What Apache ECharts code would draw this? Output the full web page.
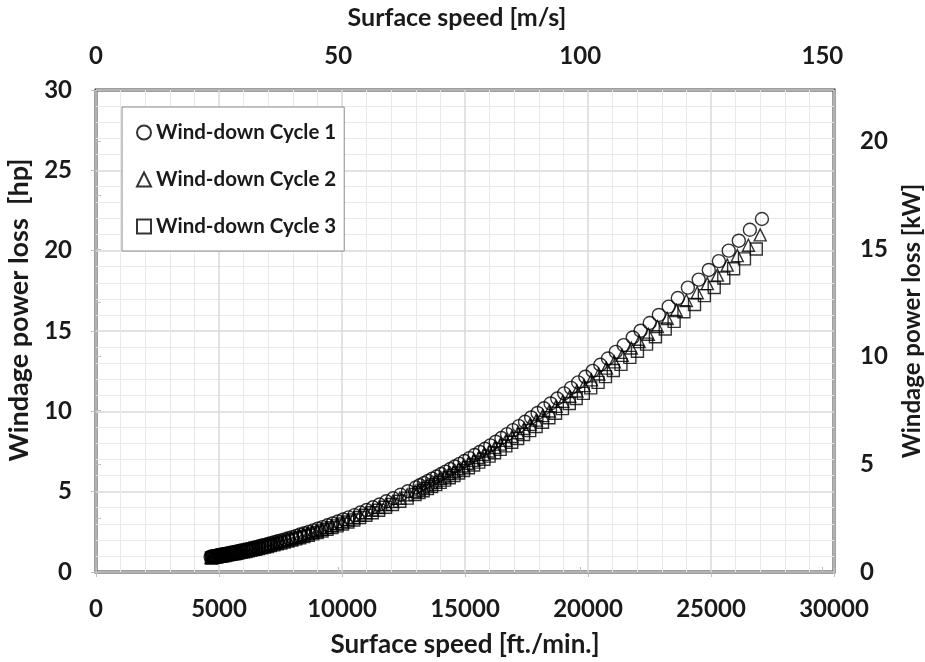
<!DOCTYPE html>
<html>
<head>
<meta charset="utf-8">
<script src="https://cdn.jsdelivr.net/npm/echarts@6/dist/echarts.min.js"></script>
<style>
html,body{margin:0;padding:0;background:#fff;}
#chart{width:925px;height:662px;}
</style>
</head>
<body>
<div id="chart"></div>
<script>
// ---- Data ----
const seriesNames = ['Wind-down Cycle 1', 'Wind-down Cycle 2', 'Wind-down Cycle 3'];

// Cycle 1 (circles): surface speed [ft./min.] and windage power loss [hp]
const speed1 = [
  27070, 26580, 26130, 25720, 25320, 24910, 24500, 24060, 23650, 23280,
  22880, 22510, 22140, 21820, 21450, 21130, 20810, 20500, 20190, 19890,
  19600, 19310, 19030, 18750, 18480, 18210, 17950, 17690, 17440, 17190,
  16950, 16710, 16480, 16250, 16030, 15810, 15600, 15390, 15180, 14980,
  14780, 14590, 14400, 14210, 14030, 13850, 13670, 13500, 13330, 13160,
  13000, 12680, 12380, 12080, 11800, 11520, 11260, 11000, 10750, 10510,
  10270, 10050, 9830, 9610, 9410, 9210, 9010, 8830, 8650, 8470,
  8300, 8140, 7980, 7820, 7670, 7530, 7390, 7250, 7110, 6990,
  6870, 6750, 6630, 6510, 6410, 6310, 6210, 6110, 6010, 5910,
  5820, 5740, 5660, 5580, 5500, 5420, 5340, 5260, 5200, 5140,
  5080, 5020, 4960, 4900, 4840, 4780, 4720, 4660
];
const power1 = [
  21.97, 21.30, 20.62, 20.00, 19.35, 18.80, 18.20, 17.70, 17.05, 16.52,
  16.00, 15.50, 15.02, 14.60, 14.12, 13.70, 13.29, 12.90, 12.52, 12.15,
  11.80, 11.46, 11.12, 10.80, 10.49, 10.19, 9.90, 9.62, 9.35, 9.08,
  8.83, 8.58, 8.34, 8.11, 7.88, 7.67, 7.47, 7.28, 7.09, 6.91,
  6.73, 6.57, 6.41, 6.25, 6.10, 5.94, 5.81, 5.67, 5.53, 5.40,
  5.27, 5.03, 4.81, 4.59, 4.40, 4.20, 4.03, 3.86, 3.70, 3.54,
  3.40, 3.27, 3.14, 3.02, 2.91, 2.79, 2.69, 2.59, 2.50, 2.41,
  2.33, 2.25, 2.17, 2.10, 2.03, 1.97, 1.91, 1.85, 1.79, 1.74,
  1.69, 1.65, 1.60, 1.55, 1.52, 1.48, 1.44, 1.40, 1.37, 1.34,
  1.31, 1.28, 1.25, 1.23, 1.20, 1.18, 1.15, 1.13, 1.11, 1.09,
  1.07, 1.06, 1.04, 1.02, 1.00, 0.99, 0.97, 0.95
];

// Cycle 2 (triangles)
const speed2 = [
  27000, 26520, 26070, 25660, 25260, 24850, 24440, 24000, 23590, 23220,
  22820, 22450, 22080, 21760, 21390, 21070, 20750, 20440, 20140, 19840,
  19550, 19260, 18980, 18700, 18430, 18160, 17900, 17650, 17400, 17150,
  16910, 16670, 16440, 16210, 15990, 15770, 15560, 15350, 15140, 14940,
  14750, 14560, 14370, 14180, 14000, 13820, 13640, 13470, 13300, 13130,
  12970, 12650, 12350, 12060, 11780, 11500, 11240, 10980, 10730, 10490,
  10250, 10030, 9810, 9590, 9390, 9190, 8990, 8810, 8630, 8450,
  8280, 8120, 7960, 7800, 7650, 7510, 7370, 7230, 7090, 6970,
  6850, 6730, 6610, 6490, 6390, 6290, 6190, 6090, 5990, 5890,
  5800, 5720, 5640, 5560, 5480, 5400, 5320, 5240, 5180, 5120,
  5060, 5000, 4940, 4880, 4820, 4770, 4730, 4690
];
const power2 = [
  20.98, 20.34, 19.69, 19.10, 18.48, 17.95, 17.38, 16.90, 16.28, 15.78,
  15.28, 14.80, 14.34, 13.94, 13.48, 13.08, 12.69, 12.32, 11.96, 11.60,
  11.27, 10.94, 10.62, 10.31, 10.02, 9.73, 9.45, 9.19, 8.93, 8.67,
  8.43, 8.19, 7.96, 7.75, 7.53, 7.32, 7.13, 6.95, 6.77, 6.60,
  6.43, 6.27, 6.12, 5.97, 5.83, 5.67, 5.55, 5.41, 5.28, 5.16,
  5.03, 4.80, 4.59, 4.38, 4.20, 4.01, 3.85, 3.69, 3.53, 3.38,
  3.25, 3.12, 3.00, 2.88, 2.78, 2.66, 2.57, 2.47, 2.39, 2.30,
  2.23, 2.15, 2.07, 2.01, 1.94, 1.88, 1.82, 1.77, 1.71, 1.66,
  1.61, 1.58, 1.53, 1.48, 1.45, 1.41, 1.38, 1.34, 1.31, 1.28,
  1.25, 1.22, 1.19, 1.17, 1.15, 1.13, 1.10, 1.08, 1.06, 1.04,
  1.02, 1.01, 0.99, 0.97, 0.96, 0.95, 0.93, 0.91
];

// Cycle 3 (squares)
const speed3 = [
  26840, 26360, 25920, 25520, 25130, 24730, 24330, 23900, 23500, 23140,
  22740, 22380, 22010, 21700, 21340, 21030, 20710, 20410, 20110, 19810,
  19520, 19240, 18960, 18680, 18410, 18150, 17890, 17630, 17380, 17140,
  16900, 16660, 16430, 16200, 15980, 15770, 15560, 15350, 15140, 14940,
  14740, 14550, 14360, 14170, 13990, 13810, 13640, 13470, 13300, 13130,
  12970, 12650, 12350, 12050, 11770, 11490, 11230, 10970, 10720, 10480,
  10240, 10020, 9800, 9590, 9390, 9190, 8990, 8810, 8630, 8450,
  8280, 8120, 7960, 7800, 7650, 7510, 7370, 7230, 7090, 6970,
  6850, 6730, 6610, 6490, 6390, 6290, 6190, 6090, 5990, 5890,
  5800, 5720, 5640, 5560, 5480, 5400, 5320, 5240, 5180, 5120,
  5060, 5000, 4940, 4880, 4820, 4770, 4730, 4690
];
const power3 = [
  20.10, 19.49, 18.87, 18.30, 17.71, 17.20, 16.65, 16.20, 15.60, 15.12,
  14.64, 14.18, 13.74, 13.36, 12.92, 12.54, 12.16, 11.80, 11.46, 11.12,
  10.80, 10.49, 10.17, 9.88, 9.60, 9.32, 9.06, 8.80, 8.56, 8.31,
  8.08, 7.85, 7.63, 7.42, 7.21, 7.02, 6.84, 6.66, 6.49, 6.32,
  6.16, 6.01, 5.87, 5.72, 5.58, 5.44, 5.32, 5.19, 5.06, 4.94,
  4.82, 4.60, 4.40, 4.20, 4.03, 3.84, 3.69, 3.53, 3.39, 3.24,
  3.11, 2.99, 2.87, 2.76, 2.66, 2.55, 2.46, 2.37, 2.29, 2.21,
  2.13, 2.06, 1.99, 1.92, 1.86, 1.80, 1.75, 1.69, 1.64, 1.59,
  1.55, 1.51, 1.46, 1.42, 1.39, 1.35, 1.32, 1.28, 1.25, 1.23,
  1.20, 1.17, 1.14, 1.13, 1.10, 1.08, 1.05, 1.03, 1.02, 1.00,
  0.98, 0.97, 0.95, 0.93, 0.92, 0.91, 0.89, 0.87
];

// Axis ranges and tick settings
const xFtMin = { min: 0, max: 30000, interval: 5000 };
const yHp = { min: 0, max: 30, interval: 5 };
const FTMIN_TO_MS = 0.00508;   // 1 ft/min = 0.00508 m/s
const HP_TO_KW = 0.7457;       // 1 hp = 0.7457 kW

function pairs(xs, ys) {
  const n = Math.min(xs.length, ys.length);
  const out = [];
  for (let i = 0; i < n; i++) out.push([xs[i], ys[i]]);
  return out;
}

const FONT = 'Lato';
const txt = '#1a1a1a';
const labelStyle = { fontFamily: FONT, fontWeight: 'bold', fontSize: 24, color: txt };
function nameStyle(size, pad) {
  return { fontFamily: FONT, fontWeight: 'bold', fontSize: size, color: txt, padding: pad || 0 };
}
const tickStyle = { show: true, length: 5, lineStyle: { color: '#bfbfbf', width: 1 } };

const chart = echarts.init(document.getElementById('chart'), null, { renderer: 'canvas' });

const markerStyle = { color: 'rgba(255,255,255,0)', borderColor: '#000', borderWidth: 1.4 };

chart.setOption({
  backgroundColor: '#fff',
  animation: false,
  grid: {
    left: 96, right: 91, top: 90, bottom: 90,
    outerBoundsMode: 'none', containLabel: false,
    show: true, borderColor: '#404040', borderWidth: 3, backgroundColor: 'transparent'
  },
  legend: {
    orient: 'vertical',
    left: 122, top: 107,
    padding: [15, 8, 14, 14],
    itemGap: 26,
    itemWidth: 14, itemHeight: 14,
    backgroundColor: '#fff',
    borderColor: '#8c8c8c', borderWidth: 1,
    textStyle: { fontFamily: FONT, fontWeight: 'bold', fontSize: 20.5, color: txt },
    data: seriesNames
  },
  xAxis: [
    {
      type: 'value', position: 'bottom',
      min: xFtMin.min, max: xFtMin.max, interval: xFtMin.interval,
      name: 'Surface speed [ft./min.]', nameLocation: 'middle', nameGap: 60,
      nameTextStyle: nameStyle(26),
      axisLine: { show: false },
      axisTick: tickStyle,
      axisLabel: Object.assign({ margin: 25, formatter: v => String(v) }, labelStyle),
      splitLine: { show: true, lineStyle: { color: '#d9d9d9', width: 1.5 } },
      minorTick: { show: false, splitNumber: 5 },
      minorSplitLine: { show: true, lineStyle: { color: '#e9e9e9', width: 1 } }
    },
    {
      type: 'value', position: 'top',
      min: xFtMin.min * FTMIN_TO_MS, max: xFtMin.max * FTMIN_TO_MS, interval: 50,
      name: 'Surface speed [m/s]', nameLocation: 'middle', nameGap: 60,
      nameTextStyle: nameStyle(25, [0, 16, 0, 0]),
      axisLine: { show: false },
      axisTick: tickStyle,
      axisLabel: Object.assign({ margin: 22, formatter: v => (Math.abs(v % 50) < 1e-6 ? String(v) : '') }, labelStyle),
      splitLine: { show: false }
    }
  ],
  yAxis: [
    {
      type: 'value', position: 'left',
      min: yHp.min, max: yHp.max, interval: yHp.interval,
      name: 'Windage power loss  [hp]', nameLocation: 'middle', nameGap: 58,
      nameTextStyle: nameStyle(27, [0, 0, 0, 42]),
      axisLine: { show: false },
      axisTick: tickStyle,
      axisLabel: Object.assign({ margin: 24 }, labelStyle),
      splitLine: { show: true, lineStyle: { color: '#d9d9d9', width: 1.5 } },
      minorTick: { show: false, splitNumber: 5 },
      minorSplitLine: { show: true, lineStyle: { color: '#e9e9e9', width: 1 } }
    },
    {
      type: 'value', position: 'right',
      min: yHp.min * HP_TO_KW, max: yHp.max * HP_TO_KW, interval: 2.5,
      name: 'Windage power loss [kW]', nameLocation: 'middle', nameGap: 66,
      nameTextStyle: nameStyle(24, [0, 0, 0, 20]),
      axisLine: { show: false },
      axisTick: tickStyle,
      axisLabel: Object.assign({ margin: 26, formatter: v => (Math.abs(v % 5) < 1e-6 ? String(v) : '') }, labelStyle),
      splitLine: { show: false }
    }
  ],
  series: [
    { name: seriesNames[0], type: 'scatter', symbol: 'circle', symbolSize: 13,
      itemStyle: markerStyle, data: pairs(speed1, power1), z: 3 },
    { name: seriesNames[1], type: 'scatter', symbol: 'triangle', symbolSize: 12,
      itemStyle: markerStyle, data: pairs(speed2, power2), z: 4 },
    { name: seriesNames[2], type: 'scatter', symbol: 'rect', symbolSize: 12,
      itemStyle: markerStyle, data: pairs(speed3, power3), z: 5 }
  ]
});
</script>
</body>
</html>
